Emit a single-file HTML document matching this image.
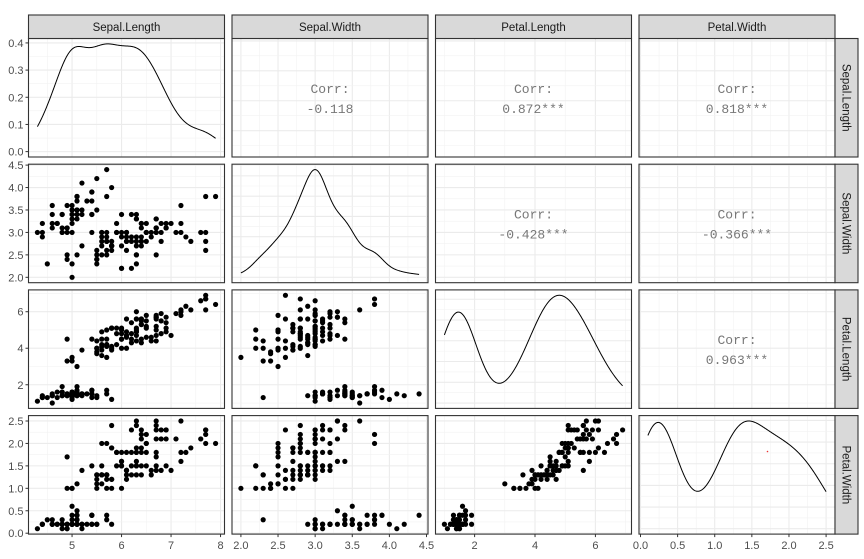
<!DOCTYPE html>
<html><head><meta charset="utf-8">
<style>
html,body{margin:0;padding:0;background:#fff;}
svg{display:block;font-family:"Liberation Sans",sans-serif;}
</style></head>
<body>
<svg id="chart" width="864" height="559" viewBox="0 0 864 559" xmlns="http://www.w3.org/2000/svg"></svg>
<script>
const varNames = ["Sepal.Length","Sepal.Width","Petal.Length","Petal.Width"];
const sepalLength = [5.1,4.9,4.7,4.6,5.0,5.4,4.6,5.0,4.4,4.9,5.4,4.8,4.8,4.3,5.8,5.7,5.4,5.1,5.7,5.1,5.4,5.1,4.6,5.1,4.8,5.0,5.0,5.2,5.2,4.7,4.8,5.4,5.2,5.5,4.9,5.0,5.5,4.9,4.4,5.1,5.0,4.5,4.4,5.0,5.1,4.8,5.1,4.6,5.3,5.0,
7.0,6.4,6.9,5.5,6.5,5.7,6.3,4.9,6.6,5.2,5.0,5.9,6.0,6.1,5.6,6.7,5.6,5.8,6.2,5.6,5.9,6.1,6.3,6.1,6.4,6.6,6.8,6.7,6.0,5.7,5.5,5.5,5.8,6.0,5.4,6.0,6.7,6.3,5.6,5.5,5.5,6.1,5.8,5.0,5.6,5.7,5.7,6.2,5.1,5.7,
6.3,5.8,7.1,6.3,6.5,7.6,4.9,7.3,6.7,7.2,6.5,6.4,6.8,5.7,5.8,6.4,6.5,7.7,7.7,6.0,6.9,5.6,7.7,6.3,6.7,7.2,6.2,6.1,6.4,7.2,7.4,7.9,6.4,6.3,6.1,7.7,6.3,6.4,6.0,6.9,6.7,6.9,5.8,6.8,6.7,6.7,6.3,6.5,6.2,5.9];
const sepalWidth = [3.5,3.0,3.2,3.1,3.6,3.9,3.4,3.4,2.9,3.1,3.7,3.4,3.0,3.0,4.0,4.4,3.9,3.5,3.8,3.8,3.4,3.7,3.6,3.3,3.4,3.0,3.4,3.5,3.4,3.2,3.1,3.4,4.1,4.2,3.1,3.2,3.5,3.6,3.0,3.4,3.5,2.3,3.2,3.5,3.8,3.0,3.8,3.2,3.7,3.3,
3.2,3.2,3.1,2.3,2.8,2.8,3.3,2.4,2.9,2.7,2.0,3.0,2.2,2.9,2.9,3.1,3.0,2.7,2.2,2.5,3.2,2.8,2.5,2.8,2.9,3.0,2.8,3.0,2.9,2.6,2.4,2.4,2.7,2.7,3.0,3.4,3.1,2.3,3.0,2.5,2.6,3.0,2.6,2.3,2.7,3.0,2.9,2.9,2.5,2.8,
3.3,2.7,3.0,2.9,3.0,3.0,2.5,2.9,2.5,3.6,3.2,2.7,3.0,2.5,2.8,3.2,3.0,3.8,2.6,2.2,3.2,2.8,2.8,2.7,3.3,3.2,2.8,3.0,2.8,3.0,2.8,3.8,2.8,2.8,2.6,3.0,3.4,3.1,3.0,3.1,3.1,3.1,2.7,3.2,3.3,3.0,2.5,3.0,3.4,3.0];
const petalLength = [1.4,1.4,1.3,1.5,1.4,1.7,1.4,1.5,1.4,1.5,1.5,1.6,1.4,1.1,1.2,1.5,1.3,1.4,1.7,1.5,1.7,1.5,1.0,1.7,1.9,1.6,1.6,1.5,1.4,1.6,1.6,1.5,1.5,1.4,1.5,1.2,1.3,1.4,1.3,1.5,1.3,1.3,1.3,1.6,1.9,1.4,1.6,1.4,1.5,1.4,
4.7,4.5,4.9,4.0,4.6,4.5,4.7,3.3,4.6,3.9,3.5,4.2,4.0,4.7,3.6,4.4,4.5,4.1,4.5,3.9,4.8,4.0,4.9,4.7,4.3,4.4,4.8,5.0,4.5,3.5,3.8,3.7,3.9,5.1,4.5,4.5,4.7,4.4,4.1,4.0,4.4,4.6,4.0,3.3,4.2,4.2,4.2,4.3,3.0,4.1,
6.0,5.1,5.9,5.6,5.8,6.6,4.5,6.3,5.8,6.1,5.1,5.3,5.5,5.0,5.1,5.3,5.5,6.7,6.9,5.0,5.7,4.9,6.7,4.9,5.7,6.0,4.8,4.9,5.6,5.8,6.1,6.4,5.6,5.1,5.6,6.1,5.6,5.5,4.8,5.4,5.6,5.1,5.1,5.9,5.7,5.2,5.0,5.2,5.4,5.1];
const petalWidth = [0.2,0.2,0.2,0.2,0.2,0.4,0.3,0.2,0.2,0.1,0.2,0.2,0.1,0.1,0.2,0.4,0.4,0.3,0.3,0.3,0.2,0.4,0.2,0.5,0.2,0.2,0.4,0.2,0.2,0.2,0.2,0.4,0.1,0.2,0.2,0.2,0.2,0.1,0.2,0.2,0.3,0.3,0.2,0.6,0.4,0.3,0.2,0.2,0.2,0.2,
1.4,1.5,1.5,1.3,1.5,1.3,1.6,1.0,1.3,1.4,1.0,1.5,1.0,1.4,1.3,1.4,1.5,1.0,1.5,1.1,1.8,1.3,1.5,1.2,1.3,1.4,1.4,1.7,1.5,1.0,1.1,1.0,1.2,1.6,1.5,1.6,1.5,1.3,1.3,1.3,1.2,1.4,1.2,1.0,1.3,1.2,1.3,1.3,1.1,1.3,
2.5,1.9,2.1,1.8,2.2,2.1,1.7,1.8,1.8,2.5,2.0,1.9,2.1,2.0,2.4,2.3,1.8,2.2,2.3,1.5,2.3,2.0,2.0,1.8,2.1,1.8,1.8,1.8,2.1,1.6,1.9,2.0,2.2,1.5,1.4,2.3,2.4,1.8,1.8,2.1,2.4,2.3,1.9,2.3,2.5,2.3,1.9,2.0,2.3,1.8];
const corrLabels = {"0,1":"-0.118","0,2":"0.872***","0,3":"0.818***","1,2":"-0.428***","1,3":"-0.366***","2,3":"0.963***"};
const tickLabels = [["5","6","7","8"],["2.0","2.5","3.0","3.5","4.0","4.5"],["2","4","6"],["0.0","0.5","1.0","1.5","2.0","2.5"]];
const densityTicks = ["0.0","0.1","0.2","0.3","0.4"];

const data = [sepalLength,sepalWidth,petalLength,petalWidth];
const majors = [[5,6,7,8],[2,2.5,3,3.5,4,4.5],[2,4,6],[0,0.5,1,1.5,2,2.5]];
const minors = [[4.5,5.5,6.5,7.5],[2.25,2.75,3.25,3.75,4.25],[1,3,5,7],[0.25,0.75,1.25,1.75,2.25]];
const svg = document.getElementById('chart');
const NS = "http://www.w3.org/2000/svg";
function mk(tag, attrs, parent){const e=document.createElementNS(NS,tag);for(const k in attrs)e.setAttribute(k,attrs[k]);(parent||svg).appendChild(e);return e;}

const PX0=28.5, PW=196, PPITCH=203.5, PY0=38.5, PH=118.5, PYPITCH=125.7;
function dom(i){const a=Math.min(...data[i]),b=Math.max(...data[i]),r=b-a;return [a-0.05*r,b+0.05*r];}
function xs(i,col){const [lo,hi]=dom(i);const x0=PX0+col*PPITCH;return v=>x0+(v-lo)/(hi-lo)*PW;}
function ys(i,row){const [lo,hi]=dom(i);const y0=PY0+row*PYPITCH;return v=>y0+PH-(v-lo)/(hi-lo)*PH;}

function quantile(s,p){const h=(s.length-1)*p,l=Math.floor(h);return s[l]+(h-l)*((s[l+1]??s[l])-s[l]);}
function kde(arr){
  const n=arr.length,m=arr.reduce((a,b)=>a+b)/n;
  const sd=Math.sqrt(arr.reduce((a,b)=>a+(b-m)**2,0)/(n-1));
  const s=[...arr].sort((a,b)=>a-b);
  const iqr=quantile(s,0.75)-quantile(s,0.25);
  const bw=0.9*Math.min(sd,iqr/1.34)*Math.pow(n,-0.2);
  const a=s[0],b=s[n-1],pts=[];
  for(let k=0;k<512;k++){const x=a+(b-a)*k/511;let d=0;for(const v of arr)d+=Math.exp(-0.5*((x-v)/bw)**2);pts.push([x,d/(n*bw*Math.sqrt(2*Math.PI))]);}
  return pts;
}
function pretty(max){const raw=max/5;const p=Math.pow(10,Math.floor(Math.log10(raw)));const f=raw/p;const st=(f<1.5?1:f<3?2:f<7?5:10)*p;const r=[];for(let v=0;v<=max*1.05+1e-9;v+=st)r.push(v);return {r,st};}

for(let row=0;row<4;row++){
  for(let col=0;col<4;col++){
    const x0=PX0+col*PPITCH,y0=PY0+row*PYPITCH;
    const g=mk('g',{});
    
    
    mk('rect',{x:x0,y:y0,width:PW,height:PH,fill:'#fff'},g);
    const X=xs(col,col);
    // vertical grid
    minors[col].forEach(v=>{const x=X(v);if(x>x0&&x<x0+PW)mk('line',{x1:x,x2:x,y1:y0,y2:y0+PH,stroke:'#f2f2f2','stroke-width':0.6},g);});
    majors[col].forEach(v=>{const x=X(v);if(x>x0&&x<x0+PW)mk('line',{x1:x,x2:x,y1:y0,y2:y0+PH,stroke:'#ebebeb','stroke-width':1.1},g);});
    // horizontal grid
    let Y,ymaj,ymin;
    let dens=null;
    if(row===col){
      dens=kde(data[col]);
      const mx=Math.max(...dens.map(d=>d[1]));
      const lo=-0.05*mx,hi=mx*1.05;
      Y=v=>y0+PH-(v-lo)/(hi-lo)*PH;
      const pr=pretty(mx);ymaj=pr.r;ymin=pr.r.map(v=>v+pr.st/2);
    } else {
      Y=ys(row,row);ymaj=majors[row];ymin=minors[row];
    }
    ymin.forEach(v=>{const y=Y(v);if(y>y0&&y<y0+PH)mk('line',{x1:x0,x2:x0+PW,y1:y,y2:y,stroke:'#f2f2f2','stroke-width':0.6},g);});
    ymaj.forEach(v=>{const y=Y(v);if(y>y0&&y<y0+PH)mk('line',{x1:x0,x2:x0+PW,y1:y,y2:y,stroke:'#ebebeb','stroke-width':1.1},g);});
    if(dens){
      const p=mk('path',{d:dens.map((d,k)=>(k?'L':'M')+X(d[0]).toFixed(2)+','+Y(d[1]).toFixed(2)).join(''),fill:'none',stroke:'#000','stroke-width':1},g);
      
      
      if(col===0){
        densityTicks.forEach(t=>{const y=Y(parseFloat(t));
          mk('line',{x1:x0-3,x2:x0,y1:y,y2:y,stroke:'#333','stroke-width':1});
          const tx=mk('text',{x:x0-5,y:y+4,'text-anchor':'end','font-size':11,fill:'#4d4d4d'});tx.textContent=t;
          
          });
      }
    } else if(row>col){
      const Yr=ys(row,row);
      for(let k=0;k<150;k++){
        const c=mk('circle',{cx:X(data[col][k]).toFixed(2),cy:Yr(data[row][k]).toFixed(2),r:2.6,fill:'#000'},g);
        
        
      }
    } else {
      const cx=x0+PW/2,cy=y0+PH/2;
      const t1=mk('text',{x:cx,y:cy-5,'text-anchor':'middle','font-size':13,fill:'#777','font-family':'"Liberation Mono",monospace'},g);
      t1.textContent='Corr:';
      
      
      const t2=mk('text',{x:cx,y:cy+15,'text-anchor':'middle','font-size':13,fill:'#777','font-family':'"Liberation Mono",monospace'},g);
      t2.textContent=corrLabels[col+','+row]||corrLabels[row+','+col];
      
      
    }
    mk('rect',{x:x0,y:y0,width:PW,height:PH,fill:'none',stroke:'#333','stroke-width':1.1},g);
    // left axis
    if(col===0&&row>0){
      const Yr=ys(row,row);
      majors[row].forEach((v,k)=>{const y=Yr(v);
        mk('line',{x1:x0-3,x2:x0,y1:y,y2:y,stroke:'#333','stroke-width':1});
        const tx=mk('text',{x:x0-5,y:y+4,'text-anchor':'end','font-size':11,fill:'#4d4d4d'});tx.textContent=tickLabels[row][k];
        
        });
    }
    if(row===3){
      majors[col].forEach((v,k)=>{const x=X(v);
        mk('line',{x1:x,x2:x,y1:y0+PH,y2:y0+PH+3,stroke:'#333','stroke-width':1});
        const tx=mk('text',{x:x,y:y0+PH+15,'text-anchor':'middle','font-size':11,fill:'#4d4d4d'});tx.textContent=tickLabels[col][k];
        
        });
    }
  }
  // right strip
  const sy=PY0+row*PYPITCH;
  const sr=mk('rect',{x:PX0+3*PPITCH+PW,y:sy,width:23,height:PH,fill:'#d9d9d9',stroke:'#333','stroke-width':1.1});
  
  
  const sx=PX0+3*PPITCH+PW+7.5,cy=sy+PH/2;
  const st=mk('text',{x:sx,y:cy,'text-anchor':'middle','font-size':11.5,fill:'#1a1a1a',transform:`rotate(90 ${sx} ${cy})`});
  st.textContent=varNames[row];
  
  
}
for(let col=0;col<4;col++){
  const x0=PX0+col*PPITCH;
  const r=mk('rect',{x:x0,y:15,width:PW,height:23.5,fill:'#d9d9d9',stroke:'#333','stroke-width':1.1});
  
  
  const t=mk('text',{x:x0+PW/2,y:31,'text-anchor':'middle','font-size':11.5,fill:'#1a1a1a'});
  t.textContent=varNames[col];
  
  
}
const dot=mk('circle',{cx:767.5,cy:451.5,r:0.8,fill:'#e33'});


</script>
</body></html>
